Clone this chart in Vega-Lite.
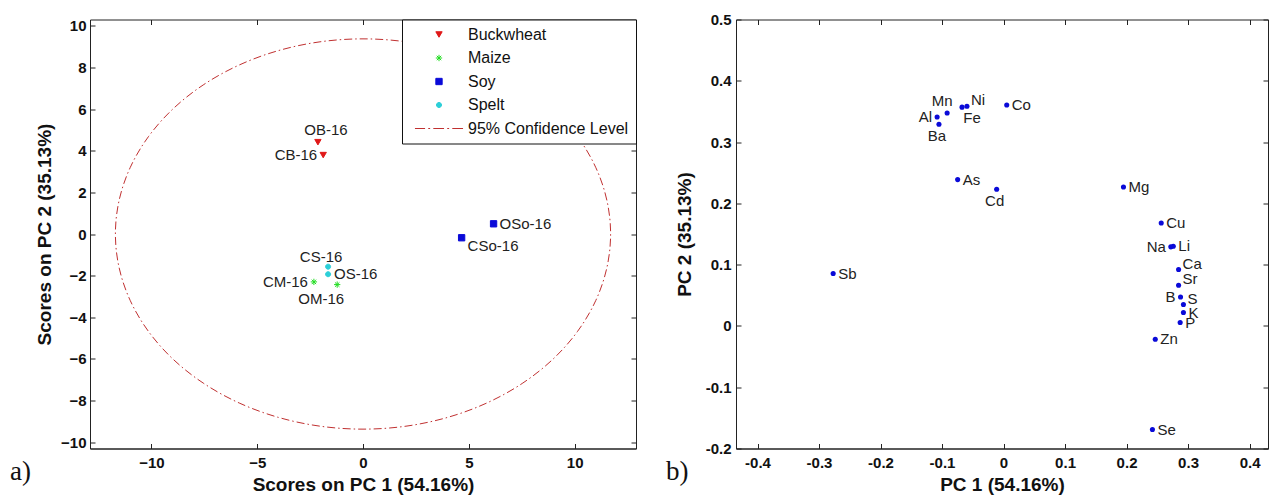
{
  "$schema": "https://vega.github.io/schema/vega-lite/v6.json",
  "background": "white",
  "autosize": {"type": "pad"},
  "padding": {"left": 9, "top": 11.5, "right": 0, "bottom": 0},
  "datasets": {
    "scores": [
      {"name": "OB-16", "group": "Buckwheat", "x": -2.13, "y": 4.41},
      {"name": "CB-16", "group": "Buckwheat", "x": -1.88, "y": 3.79},
      {"name": "OSo-16", "group": "Soy", "x": 6.17, "y": 0.49},
      {"name": "CSo-16", "group": "Soy", "x": 4.66, "y": -0.18},
      {"name": "CS-16", "group": "Spelt", "x": -1.65, "y": -1.57},
      {"name": "OS-16", "group": "Spelt", "x": -1.65, "y": -1.93},
      {"name": "CM-16", "group": "Maize", "x": -2.32, "y": -2.3},
      {"name": "OM-16", "group": "Maize", "x": -1.22, "y": -2.43}
    ],
    "ellipse": [
      {"angle": 0, "x": 11.7, "y": 0},
      {"angle": 10, "x": 11.522, "y": 1.627},
      {"angle": 20, "x": 10.994, "y": 3.205},
      {"angle": 30, "x": 10.132, "y": 4.685},
      {"angle": 40, "x": 8.963, "y": 6.023},
      {"angle": 50, "x": 7.521, "y": 7.178},
      {"angle": 60, "x": 5.85, "y": 8.115},
      {"angle": 70, "x": 4.002, "y": 8.805},
      {"angle": 80, "x": 2.032, "y": 9.228},
      {"angle": 90, "x": 0, "y": 9.37},
      {"angle": 100, "x": -2.032, "y": 9.228},
      {"angle": 110, "x": -4.002, "y": 8.805},
      {"angle": 120, "x": -5.85, "y": 8.115},
      {"angle": 130, "x": -7.521, "y": 7.178},
      {"angle": 140, "x": -8.963, "y": 6.023},
      {"angle": 150, "x": -10.132, "y": 4.685},
      {"angle": 160, "x": -10.994, "y": 3.205},
      {"angle": 170, "x": -11.522, "y": 1.627},
      {"angle": 180, "x": -11.7, "y": 0},
      {"angle": 190, "x": -11.522, "y": -1.627},
      {"angle": 200, "x": -10.994, "y": -3.205},
      {"angle": 210, "x": -10.132, "y": -4.685},
      {"angle": 220, "x": -8.963, "y": -6.023},
      {"angle": 230, "x": -7.521, "y": -7.178},
      {"angle": 240, "x": -5.85, "y": -8.115},
      {"angle": 250, "x": -4.002, "y": -8.805},
      {"angle": 260, "x": -2.032, "y": -9.228},
      {"angle": 270, "x": 0, "y": -9.37},
      {"angle": 280, "x": 2.032, "y": -9.228},
      {"angle": 290, "x": 4.002, "y": -8.805},
      {"angle": 300, "x": 5.85, "y": -8.115},
      {"angle": 310, "x": 7.521, "y": -7.178},
      {"angle": 320, "x": 8.963, "y": -6.023},
      {"angle": 330, "x": 10.132, "y": -4.685},
      {"angle": 340, "x": 10.994, "y": -3.205},
      {"angle": 350, "x": 11.522, "y": -1.627}
    ],
    "loadings": [
      {"name": "Sb", "x": -0.277, "y": 0.0855},
      {"name": "Mn", "x": -0.0917, "y": 0.3475},
      {"name": "Al", "x": -0.108, "y": 0.341},
      {"name": "Ba", "x": -0.105, "y": 0.329},
      {"name": "Fe", "x": -0.0675, "y": 0.357},
      {"name": "Ni", "x": -0.0595, "y": 0.3585},
      {"name": "Co", "x": 0.0052, "y": 0.3606},
      {"name": "As", "x": -0.0746, "y": 0.2388},
      {"name": "Cd", "x": -0.0112, "y": 0.223},
      {"name": "Mg", "x": 0.195, "y": 0.2268},
      {"name": "Cu", "x": 0.2564, "y": 0.168},
      {"name": "Na", "x": 0.272, "y": 0.129},
      {"name": "Li", "x": 0.276, "y": 0.13},
      {"name": "Ca", "x": 0.2846, "y": 0.092},
      {"name": "Sr", "x": 0.2846, "y": 0.0664},
      {"name": "B", "x": 0.2878, "y": 0.0473},
      {"name": "S", "x": 0.2925, "y": 0.0349},
      {"name": "K", "x": 0.2925, "y": 0.0218},
      {"name": "P", "x": 0.2872, "y": 0.0055},
      {"name": "Zn", "x": 0.2467, "y": -0.0217},
      {"name": "Se", "x": 0.2421, "y": -0.169}
    ]
  },
  "config": {
    "view": {"stroke": "#222", "strokeWidth": 1},
    "axis": {
      "labelFont": "Liberation Sans", "labelFontWeight": "bold", "labelFontSize": 15, "labelColor": "#111",
      "titleFont": "Liberation Sans", "titleFontWeight": "bold", "titleFontSize": 19, "titleColor": "#111",
      "domainColor": "#222", "tickColor": "#222", "tickSize": -5, "grid": false,
      "labelFlush": false, "labelOverlap": false
    },
    "text": {"font": "Liberation Sans", "fontSize": 15, "color": "#222"}
  },
  "spacing": 100,
  "bounds": "flush",
  "resolve": {"legend": {"fill": "independent", "stroke": "independent", "shape": "independent"}},
  "hconcat": [
    {
      "width": 546,
      "height": 429,
      "title": {"text": "a)", "orient": "bottom", "anchor": "start", "frame": "group", "font": "Liberation Serif", "fontSize": 27, "fontWeight": "normal", "color": "#111", "dx": -80, "offset": -36},
      "layer": [
        {
          "mark": {"type": "rule", "color": "#c8c8c8", "strokeDash": [14, 5], "strokeWidth": 1.2},
          "encoding": {"x": {"datum": 0, "type": "quantitative", "axis": null}}
        },
        {
          "mark": {"type": "rule", "color": "#c8c8c8", "strokeDash": [14, 5], "strokeWidth": 1.6},
          "encoding": {"y": {"datum": 0, "type": "quantitative", "axis": null}}
        },
        {
          "data": {"name": "ellipse"},
          "mark": {"type": "line", "color": "#c03030", "strokeWidth": 1, "strokeDash": [8, 3, 1.5, 3], "interpolate": "cardinal-closed"},
          "encoding": {
            "x": {"field": "x", "type": "quantitative", "scale": {"domain": [-12.9, 12.9], "nice": false, "zero": false},
              "axis": {"orient": "bottom", "values": [-10, -5, 0, 5, 10], "title": "Scores on PC 1 (54.16%)", "labelPadding": 12, "titlePadding": 5}},
            "y": {"field": "y", "type": "quantitative", "scale": {"domain": [-10.3, 10.3], "nice": false, "zero": false},
              "axis": {"orient": "left", "values": [-10, -8, -6, -4, -2, 0, 2, 4, 6, 8, 10], "title": "Scores on PC 2 (35.13%)", "labelPadding": 9, "titlePadding": 6}},
            "order": {"field": "angle", "type": "quantitative"}
          }
        },
        {
          "data": {"name": "scores"},
          "mark": {"type": "point", "filled": true, "opacity": 1, "size": 40, "strokeWidth": 1},
          "encoding": {
            "x": {"field": "x", "type": "quantitative", "axis": {"orient": "top", "values": [-10, -5, 0, 5, 10], "labels": false, "title": null, "domain": false}},
            "y": {"field": "y", "type": "quantitative", "axis": {"orient": "right", "values": [-10, -8, -6, -4, -2, 0, 2, 4, 6, 8, 10], "labels": false, "title": null, "domain": false}},
            "fill": {"field": "group", "type": "nominal",
              "scale": {"domain": ["Buckwheat", "Maize", "Soy", "Spelt", "95% Confidence Level"], "range": ["#e01818", "#22dd22", "#0a0ad8", "#2ccfd8", "#c03030"]},
              "legend": {"title": null, "orient": "top-right", "offset": 0, "padding": 7, "strokeColor": "#111", "fillColor": "white",
                "labelFont": "Liberation Sans", "labelFontSize": 16, "labelFontWeight": "normal", "labelColor": "#111", "labelLimit": 400,
                "symbolSize": 40, "symbolStrokeWidth": 1, "symbolOffset": 22, "labelOffset": 21, "rowPadding": 7.5, "cornerRadius": 0}},
            "stroke": {"field": "group", "type": "nominal",
              "scale": {"domain": ["Buckwheat", "Maize", "Soy", "Spelt", "95% Confidence Level"], "range": ["#e01818", "#22dd22", "#0a0ad8", "#2ccfd8", "#c03030"]}},
            "shape": {"field": "group", "type": "nominal",
              "scale": {"domain": ["Buckwheat", "Maize", "Soy", "Spelt", "95% Confidence Level"],
                "range": ["triangle-down", "M-1,0L1,0M0,-1L0,1M-0.7,-0.7L0.7,0.7M-0.7,0.7L0.7,-0.7", "square", "M-0.8,0A0.8,0.8,0,1,1,0.8,0A0.8,0.8,0,1,1,-0.8,0Z", "M-7.6,0L-4.4,0M-3.4,0L-2.8,0M-1.8,0L1.6,0M2.6,0L3.2,0M4.2,0L7.6,0"]}}
          }
        },
        {
          "data": {"name": "scores"},
          "transform": [{"filter": {"field": "name", "oneOf": ["OSo-16", "OS-16"]}}],
          "mark": {"type": "text", "align": "left", "baseline": "middle", "dx": 6},
          "encoding": {"x": {"field": "x", "type": "quantitative", "axis": null}, "y": {"field": "y", "type": "quantitative", "axis": null}, "text": {"field": "name"}}
        },
        {
          "data": {"name": "scores"},
          "transform": [{"filter": {"field": "name", "oneOf": ["CB-16", "CM-16"]}}],
          "mark": {"type": "text", "align": "right", "baseline": "middle", "dx": -6},
          "encoding": {"x": {"field": "x", "type": "quantitative", "axis": null}, "y": {"field": "y", "type": "quantitative", "axis": null}, "text": {"field": "name"}}
        },
        {
          "data": {"name": "scores"},
          "transform": [{"filter": {"field": "name", "oneOf": ["OB-16"]}}],
          "mark": {"type": "text", "align": "center", "baseline": "middle", "dx": 8, "dy": -12},
          "encoding": {"x": {"field": "x", "type": "quantitative", "axis": null}, "y": {"field": "y", "type": "quantitative", "axis": null}, "text": {"field": "name"}}
        },
        {
          "data": {"name": "scores"},
          "transform": [{"filter": {"field": "name", "oneOf": ["CS-16"]}}],
          "mark": {"type": "text", "align": "center", "baseline": "middle", "dx": -7, "dy": -10},
          "encoding": {"x": {"field": "x", "type": "quantitative", "axis": null}, "y": {"field": "y", "type": "quantitative", "axis": null}, "text": {"field": "name"}}
        },
        {
          "data": {"name": "scores"},
          "transform": [{"filter": {"field": "name", "oneOf": ["CSo-16"]}}],
          "mark": {"type": "text", "align": "left", "baseline": "middle", "dx": 6, "dy": 8},
          "encoding": {"x": {"field": "x", "type": "quantitative", "axis": null}, "y": {"field": "y", "type": "quantitative", "axis": null}, "text": {"field": "name"}}
        },
        {
          "data": {"name": "scores"},
          "transform": [{"filter": {"field": "name", "oneOf": ["OM-16"]}}],
          "mark": {"type": "text", "align": "center", "baseline": "middle", "dx": -16, "dy": 14},
          "encoding": {"x": {"field": "x", "type": "quantitative", "axis": null}, "y": {"field": "y", "type": "quantitative", "axis": null}, "text": {"field": "name"}}
        }
      ],
      "resolve": {"axis": {"x": "independent", "y": "independent"}}
    },
    {
      "width": 532,
      "height": 429,
      "title": {"text": "b)", "orient": "bottom", "anchor": "start", "frame": "group", "font": "Liberation Serif", "fontSize": 27, "fontWeight": "normal", "color": "#111", "dx": -70, "offset": -36},
      "layer": [
        {
          "mark": {"type": "rule", "color": "#c8c8c8", "strokeDash": [14, 5], "strokeWidth": 1.2},
          "encoding": {"x": {"datum": 0, "type": "quantitative", "axis": null}}
        },
        {
          "mark": {"type": "rule", "color": "#c8c8c8", "strokeDash": [14, 5], "strokeWidth": 1.6},
          "encoding": {"y": {"datum": 0, "type": "quantitative", "axis": null}}
        },
        {
          "data": {"name": "loadings"},
          "mark": {"type": "point", "filled": true, "opacity": 1, "size": 26, "shape": "circle", "color": "#0a0ad8"},
          "encoding": {
            "x": {"field": "x", "type": "quantitative", "scale": {"domain": [-0.435, 0.43], "nice": false, "zero": false},
              "axis": {"orient": "bottom", "values": [-0.4, -0.3, -0.2, -0.1, 0, 0.1, 0.2, 0.3, 0.4], "labelExpr": "'' + datum.value", "title": "PC 1 (54.16%)", "labelPadding": 12, "titlePadding": 5}},
            "y": {"field": "y", "type": "quantitative", "scale": {"domain": [-0.2, 0.5], "nice": false, "zero": false},
              "axis": {"orient": "left", "values": [-0.2, -0.1, 0, 0.1, 0.2, 0.3, 0.4, 0.5], "labelExpr": "'' + datum.value", "title": "PC 2 (35.13%)", "labelPadding": 10, "titlePadding": 11}}
          }
        },
        {
          "data": {"name": "loadings"},
          "transform": [{"filter": {"field": "name", "oneOf": ["Sb", "Co", "As", "Mg", "Cu", "Li", "K", "Zn", "Se", "P"]}}],
          "mark": {"type": "text", "align": "left", "baseline": "middle", "dx": 5},
          "encoding": {
            "x": {"field": "x", "type": "quantitative", "axis": {"orient": "top", "values": [-0.4, -0.3, -0.2, -0.1, 0, 0.1, 0.2, 0.3, 0.4], "labels": false, "title": null, "domain": false}},
            "y": {"field": "y", "type": "quantitative", "axis": {"orient": "right", "values": [-0.2, -0.1, 0, 0.1, 0.2, 0.3, 0.4, 0.5], "labels": false, "title": null, "domain": false}},
            "text": {"field": "name"}
          }
        },
        {
          "data": {"name": "loadings"},
          "transform": [{"filter": {"field": "name", "oneOf": ["Ni", "Ca", "Sr", "S"]}}],
          "mark": {"type": "text", "align": "left", "baseline": "middle", "dx": 4, "dy": -6},
          "encoding": {"x": {"field": "x", "type": "quantitative", "axis": null}, "y": {"field": "y", "type": "quantitative", "axis": null}, "text": {"field": "name"}}
        },
        {
          "data": {"name": "loadings"},
          "transform": [{"filter": {"field": "name", "oneOf": ["Al", "Na", "B"]}}],
          "mark": {"type": "text", "align": "right", "baseline": "middle", "dx": -5},
          "encoding": {"x": {"field": "x", "type": "quantitative", "axis": null}, "y": {"field": "y", "type": "quantitative", "axis": null}, "text": {"field": "name"}}
        },
        {
          "data": {"name": "loadings"},
          "transform": [{"filter": {"field": "name", "oneOf": ["Mn"]}}],
          "mark": {"type": "text", "align": "center", "baseline": "middle", "dx": -5, "dy": -12},
          "encoding": {"x": {"field": "x", "type": "quantitative", "axis": null}, "y": {"field": "y", "type": "quantitative", "axis": null}, "text": {"field": "name"}}
        },
        {
          "data": {"name": "loadings"},
          "transform": [{"filter": {"field": "name", "oneOf": ["Ba", "Cd"]}}],
          "mark": {"type": "text", "align": "center", "baseline": "middle", "dx": -2, "dy": 12},
          "encoding": {"x": {"field": "x", "type": "quantitative", "axis": null}, "y": {"field": "y", "type": "quantitative", "axis": null}, "text": {"field": "name"}}
        },
        {
          "data": {"name": "loadings"},
          "transform": [{"filter": {"field": "name", "oneOf": ["Fe"]}}],
          "mark": {"type": "text", "align": "center", "baseline": "middle", "dx": 10, "dy": 11},
          "encoding": {"x": {"field": "x", "type": "quantitative", "axis": null}, "y": {"field": "y", "type": "quantitative", "axis": null}, "text": {"field": "name"}}
        }
      ],
      "resolve": {"axis": {"x": "independent", "y": "independent"}}
    }
  ]
}
